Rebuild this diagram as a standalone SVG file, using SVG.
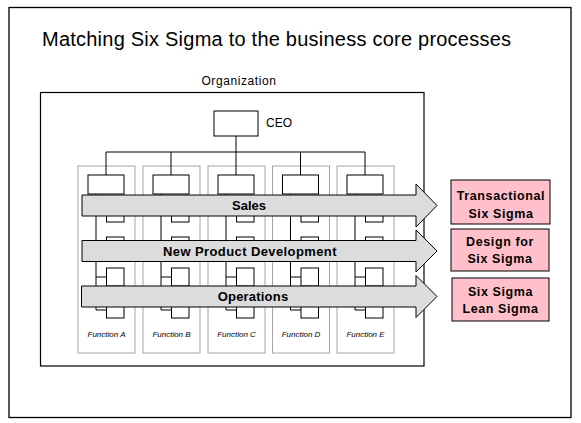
<svg xmlns="http://www.w3.org/2000/svg" width="581" height="423" viewBox="0 0 581 423">
<defs>
<style>
.frame{fill:#fff;stroke:#000;stroke-width:1.3}
.col{fill:#fff;stroke:#a6a6a6;stroke-width:1}
.box{fill:#fff;stroke:#000;stroke-width:1}
.ln{fill:none;stroke:#000;stroke-width:1}
.bar{fill:#dcdcdc;stroke:#000;stroke-width:1}
.pink{fill:#ffc0cb;stroke:#000;stroke-width:1}
.t{font-family:"Liberation Sans",Arial,sans-serif;fill:#000}
.bt{font-family:"Liberation Sans",Arial,sans-serif;font-weight:bold;font-size:13px;fill:#000;text-anchor:middle}
.pt{font-family:"Liberation Sans",Arial,sans-serif;font-weight:bold;font-size:12.5px;letter-spacing:0.6px;fill:#000;text-anchor:middle}
.ft{font-family:"Liberation Sans",Arial,sans-serif;font-style:italic;font-size:8px;fill:#000;text-anchor:middle}
</style>
<g id="fn-col">
<rect class="col" x="0" y="166" width="57" height="187"/>
<rect class="box" x="10" y="175" width="36" height="19"/>
<path class="ln" d="M18,194 V310 M18,277 H28.5 M18,310 H28.5"/>
<rect class="box" x="28.5" y="212" width="17.5" height="10"/>
<rect class="box" x="28.5" y="237" width="17.5" height="10"/>
<rect class="box" x="28.5" y="268" width="17.5" height="18"/>
<rect class="box" x="28.5" y="302" width="17.5" height="16"/>
</g>
</defs>
<rect class="frame" x="9" y="7.5" width="562" height="410"/>
<text class="t" x="42" y="46" font-size="20" textLength="469" lengthAdjust="spacing">Matching Six Sigma to the business core processes</text>
<text class="t" x="239" y="85" font-size="12" text-anchor="middle" letter-spacing="0.6">Organization</text>
<rect class="frame" x="40.5" y="92.5" width="383.5" height="273.5" style="stroke-width:1.2"/>
<g id="ceo">
<rect class="box" x="214" y="111" width="44" height="25"/>
<text class="t" x="266" y="127" font-size="12">CEO</text>
</g>
<g id="function-a"><use href="#fn-col" x="78"/><text class="ft" x="106.5" y="337">Function A</text></g>
<g id="function-b"><use href="#fn-col" x="143"/><text class="ft" x="171.5" y="337">Function B</text></g>
<g id="function-c"><use href="#fn-col" x="208"/><text class="ft" x="236.5" y="337">Function C</text></g>
<g id="function-d"><use href="#fn-col" x="272.5"/><text class="ft" x="301" y="337">Function D</text></g>
<g id="function-e"><use href="#fn-col" x="337"/><text class="ft" x="365.5" y="337">Function E</text></g>
<g id="connectors">
<path class="ln" d="M236,136 V152 M106,152 H365 M106,152 V175 M171,152 V175 M236,152 V175 M300.5,152 V175 M365,152 V175"/>
</g>
<g id="sales">
<path class="bar" d="M82,195 H416 V184 L437,205.5 L416,227 V216 H82 Z"/>
<text class="bt" x="249" y="210">Sales</text>
</g>
<g id="npd">
<path class="bar" d="M82,240.5 H416 V230 L437,251 L416,272 V261.5 H82 Z"/>
<text class="bt" x="250" y="255.5" letter-spacing="0.4">New Product Development</text>
</g>
<g id="operations">
<path class="bar" d="M81.5,286 H416 V275.5 L437,296.5 L416,317.5 V307 H81.5 Z"/>
<text class="bt" x="253" y="301" letter-spacing="0.2">Operations</text>
</g>
<g id="transactional">
<rect class="pink" x="451" y="180" width="99" height="44"/>
<text class="pt" x="501" y="199.5">Transactional</text>
<text class="pt" x="501" y="217.5">Six Sigma</text>
</g>
<g id="dfss">
<rect class="pink" x="451" y="229" width="98" height="42"/>
<text class="pt" x="500" y="246">Design for</text>
<text class="pt" x="500" y="263">Six Sigma</text>
</g>
<g id="lean">
<rect class="pink" x="452" y="278" width="97" height="43"/>
<text class="pt" x="500.5" y="295.5">Six Sigma</text>
<text class="pt" x="500.5" y="312.5">Lean Sigma</text>
</g>
</svg>
